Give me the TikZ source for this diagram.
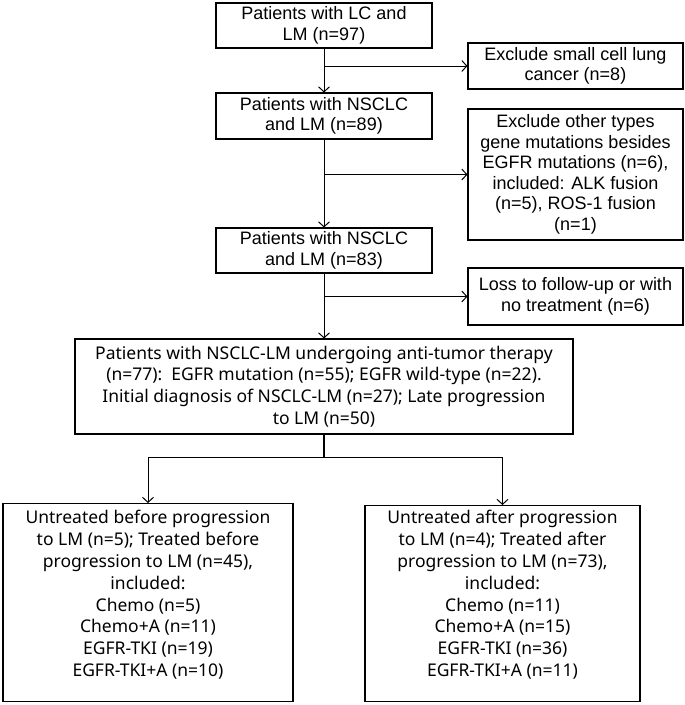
\documentclass[tikz,border=0pt]{standalone}
\usepackage{fontspec}
\setmainfont{Liberation Sans}
\newfontfamily\narrowsans{Noto Sans}
\usetikzlibrary{arrows.meta}
\begin{document}
\begin{tikzpicture}[x=1pt,y=-1pt,line width=1.1pt,
  box/.style={draw,align=center,inner sep=0pt,font=\fontsize{18}{20.5}\selectfont},
  wbox/.style={draw,align=center,inner sep=0pt,font=\narrowsans\fontsize{17.5}{21.8}\selectfont},
  arr/.style={-{Straight Barb[length=5pt,width=11pt]},line width=1pt}]
\useasboundingbox (0,0) rectangle (685,705);
\node [box,minimum width=216,minimum height=45] (lc) at (324,25.5) {Patients with LC and\\LM (n=97)};
\node [box,minimum width=215,minimum height=46] (sclc) at (575.5,66) {Exclude small cell lung\\cancer (n=8)};
\node [box,minimum width=216,minimum height=46] (nsclc) at (324,116) {Patients with NSCLC\\and LM (n=89)};
\node [box,minimum width=215,minimum height=131] (gene) at (575.5,174.5) {Exclude other types\\gene mutations besides\\EGFR mutations (n=6),\\included: ALK fusion\\(n=5), ROS-1 fusion\\(n=1)};
\node [box,minimum width=216,minimum height=45] (egfr) at (324,250.5) {Patients with NSCLC\\and LM (n=83)};
\node [box,minimum width=215,minimum height=57] (loss) at (575.5,296.5) {Loss to follow-up or with\\no treatment (n=6)};
\node [wbox,minimum width=498,minimum height=95] (therapy) at (324,386.5) {Patients with NSCLC-LM undergoing anti-tumor therapy\\(n=77):\ \ EGFR mutation (n=55); EGFR wild-type (n=22).\\Initial diagnosis of NSCLC-LM (n=27); Late progression\\to LM (n=50)};
\node [draw,minimum width=290,minimum height=198,anchor=north] (before) at (148,503) {};
\node [wbox,draw=none,anchor=north] (beforetext) at (148,510) {Untreated before progression\\to LM (n=5); Treated before\\progression to LM (n=45),\\included:\\Chemo (n=5)\\Chemo+A (n=11)\\EGFR-TKI (n=19)\\EGFR-TKI+A (n=10)};
\node [draw,minimum width=275,minimum height=196,anchor=north] (after) at (502.5,505) {};
\node [wbox,draw=none,anchor=north] (aftertext) at (502.5,510) {Untreated after progression\\to LM (n=4); Treated after\\progression to LM (n=73),\\included:\\Chemo (n=11)\\Chemo+A (n=15)\\EGFR-TKI (n=36)\\EGFR-TKI+A (n=11)};
% main line with exclusions
\coordinate (j1) at (lc.south |- sclc.west);
\coordinate (j2) at (lc.south |- gene.west);
\coordinate (j3) at (lc.south |- loss.west);
\draw [arr] (lc.south) -- (nsclc.north);
\draw [arr] (j1) -- (sclc.west);
\draw [arr] (nsclc.south) -- (egfr.north);
\draw [arr] (j2) -- (gene.west);
\draw [arr] (egfr.south) -- (therapy.north);
\draw [arr] (j3) -- (loss.west);
% split
\coordinate (s) at (324,457.5);
\draw (therapy.south) -- (s);
\draw [arr] (s) -| (before.north);
\draw [arr] (s) -| (after.north);
\end{tikzpicture}
\end{document}
